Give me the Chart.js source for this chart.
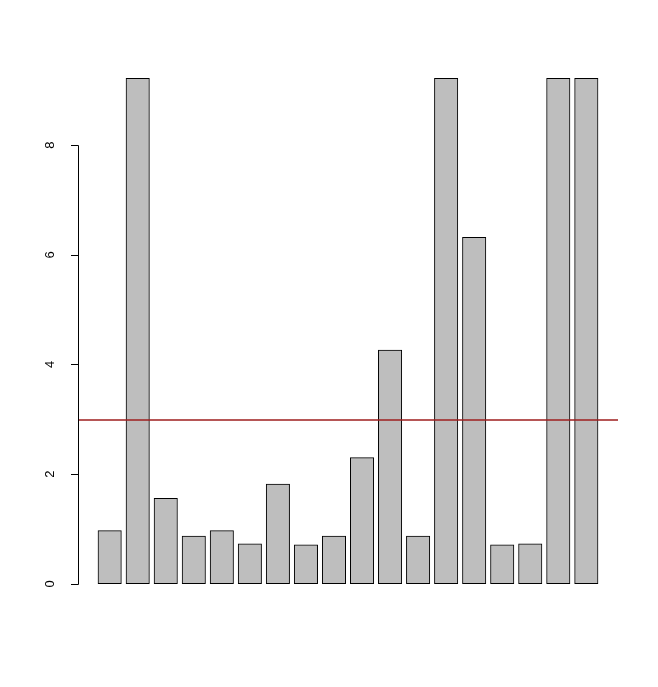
<!DOCTYPE html>
<html>
<head>
<meta charset="utf-8">
<script src="https://cdn.jsdelivr.net/npm/chart.js@4"></script>
<style>
  html, body { margin: 0; padding: 0; background: #fff; }
  #wrap { width: 658px; height: 687px; }
</style>
</head>
<body>
<div id="wrap"><canvas id="c" width="658" height="687"></canvas></div>
<script>
// bar heights, left to right
const values = [0.97, 9.22, 1.56, 0.87, 0.97, 0.73, 1.82, 0.71, 0.87, 2.30,
                4.26, 0.87, 9.22, 6.32, 0.71, 0.73, 9.22, 9.22];
const yTicks = [0, 2, 4, 6, 8];
const threshold = 3;

// R barplot geometry: bar i spans [0.2 + 1.2*i, 1.2 + 1.2*i], axes padded 4%
const barMid = values.map((v, i) => 0.7 + 1.2 * i);
const xLo = 0.2, xHi = 1.2 * values.length;
const xPad = (xHi - xLo) * 0.04;
const yMax = Math.max(...values);
const yPad = yMax * 0.04;

const axisPlugin = {
  id: "rAxis",
  afterDraw(chart) {
    const { ctx, chartArea, scales } = chart;
    const y = scales.y;
    const x0 = chartArea.left;
    ctx.save();
    // threshold line
    ctx.strokeStyle = "#9E1E1E";
    ctx.lineWidth = 1.5;
    const ty = Math.ceil(y.getPixelForValue(threshold));
    ctx.beginPath();
    ctx.moveTo(x0 + 1, ty);
    ctx.lineTo(chartArea.right, ty);
    ctx.stroke();
    // y axis line + ticks
    ctx.strokeStyle = "#000";
    ctx.lineWidth = 1;
    ctx.beginPath();
    const top = Math.round(y.getPixelForValue(yTicks[yTicks.length - 1])) + 0.5;
    const bot = Math.round(y.getPixelForValue(yTicks[0])) + 0.5;
    ctx.moveTo(x0 + 0.5, top);
    ctx.lineTo(x0 + 0.5, bot);
    yTicks.forEach(t => {
      const py = Math.round(y.getPixelForValue(t)) + 0.5;
      ctx.moveTo(x0 + 0.5, py);
      ctx.lineTo(x0 - 7, py);
    });
    ctx.stroke();
    // rotated labels
    ctx.fillStyle = "#000";
    ctx.font = "13px 'Liberation Sans', Arial, sans-serif";
    ctx.textAlign = "center";
    ctx.textBaseline = "middle";
    yTicks.forEach(t => {
      const py = y.getPixelForValue(t);
      ctx.save();
      ctx.translate(x0 - 28, py);
      ctx.rotate(-Math.PI / 2);
      ctx.fillText(String(t), 0, 0);
      ctx.restore();
    });
    ctx.restore();
  }
};

new Chart(document.getElementById("c"), {
  type: "bar",
  data: {
    datasets: [{
      data: values.map((v, i) => ({ x: barMid[i], y: v })),
      backgroundColor: "#BEBEBE",
      borderColor: "#000",
      borderWidth: 1,
      borderSkipped: false,
      barThickness: 23.4
    }]
  },
  options: {
    responsive: false,
    animation: false,
    layout: { padding: { left: 78, right: 40, top: 58, bottom: 83 } },
    plugins: { legend: { display: false }, tooltip: { enabled: false } },
    scales: {
      x: { type: "linear", min: xLo - xPad, max: xHi + xPad, display: false, offset: false },
      y: { min: -yPad, max: yMax + yPad, display: false }
    }
  },
  plugins: [axisPlugin]
});
</script>
</body>
</html>
